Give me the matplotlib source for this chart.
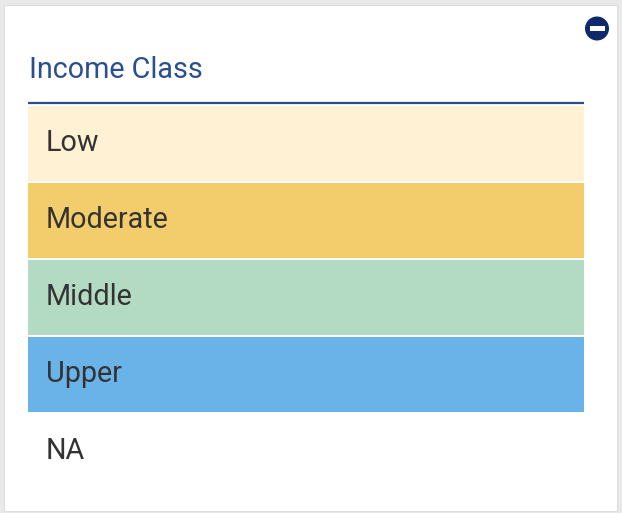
import matplotlib
matplotlib.use("Agg")
import matplotlib.pyplot as plt
from matplotlib.patches import Rectangle, Circle

title = "Income Class"
categories = ["Low", "Moderate", "Middle", "Upper", "NA"]
colors = ["#fff2d4", "#f3cd6b", "#b3dbc3", "#6ab3e8", "#ffffff"]

W, H = 622, 513
fig = plt.figure(figsize=(W / 100, H / 100), dpi=100)
fig.patch.set_facecolor("#e9e9e9")
ax = fig.add_axes([0, 0, 1, 1])
ax.set_xlim(0, W)
ax.set_ylim(H, 0)
ax.axis("off")

# panel
ax.add_patch(Rectangle((4, 5), 613, 506, facecolor="white", edgecolor="#dddddd", lw=0.8, zorder=1))

# minus icon
ax.add_patch(Circle((597, 28.5), 12, facecolor="#0f2a6b", edgecolor="none", zorder=3))
ax.add_patch(Rectangle((589.5, 26), 15, 5, facecolor="white", edgecolor="none", zorder=4))

# title
ax.text(29, 78, title, fontsize=20.7, family=["Roboto", "DejaVu Sans"], color="#2b4f8e",
        va="baseline", ha="left", zorder=3)
ax.plot([28, 584], [103, 103], color="#2d4d8a", lw=1.6, solid_capstyle="butt", zorder=3)

# rows
row_top = 105
row_h = 77
lefts = 28
width = 556
ys = [row_top + i * row_h + row_h / 2 for i in range(len(categories))]
ax.barh(ys, [width] * len(categories), height=row_h - 2, left=lefts, color=colors,
        edgecolor="none", zorder=2)
for y, c in zip(ys, categories):
    ax.text(46, y + 7.5, c, fontsize=20.7, family=["Roboto", "DejaVu Sans"], color="#333333",
            va="baseline", ha="left", zorder=3)

fig.savefig("out.png", dpi=100, facecolor=fig.get_facecolor())
